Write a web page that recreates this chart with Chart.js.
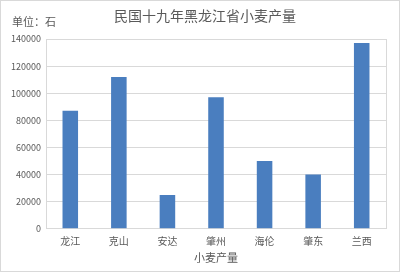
<!DOCTYPE html>
<html>
<head>
<meta charset="utf-8">
<script src="https://cdn.jsdelivr.net/npm/chart.js@4.4.0/dist/chart.umd.min.js"></script>
<style>
  html, body { margin: 0; padding: 0; background: #fff; }
  #wrap { width: 400px; height: 272px; box-sizing: border-box; border: 1px solid #d9d9d9; position: relative; }
  canvas { display: block; }
</style>
</head>
<body>
<div id="wrap"><canvas id="grafico" width="398" height="270"></canvas></div>
<script>
// datos del gráfico
const categorias = ['龙江', '克山', '安达', '肇州', '海伦', '肇东', '兰西'];
const produccion = [87000, 112000, 25000, 97000, 50000, 40000, 137000];
const titulo = '民国十九年黑龙江省小麦产量';
const unidad = '单位：石';
const tituloEjeX = '小麦产量';

const fuente = '"Microsoft YaHei", "Noto Sans CJK SC", sans-serif';
const gris = '#595959';

// dibuja título, unidad y el borde derecho del área
const extras = {
  id: 'extras',
  afterDraw(chart) {
    const { ctx, chartArea } = chart;
    ctx.save();
    ctx.strokeStyle = '#d9d9d9';
    ctx.lineWidth = 1;
    ctx.beginPath();
    ctx.moveTo(Math.round(chartArea.right) + 0.5, chartArea.top);
    ctx.lineTo(Math.round(chartArea.right) + 0.5, chartArea.bottom);
    ctx.stroke();
    ctx.fillStyle = gris;
    ctx.textBaseline = 'middle';
    ctx.font = '14px ' + fuente;
    ctx.textAlign = 'center';
    ctx.fillText(titulo, 204, 15);
    ctx.font = '11px ' + fuente;
    ctx.textAlign = 'left';
    ctx.fillText(unidad, 11, 21);
    ctx.restore();
  }
};

new Chart(document.getElementById('grafico').getContext('2d'), {
  type: 'bar',
  data: {
    labels: categorias,
    datasets: [{
      data: produccion,
      backgroundColor: '#4A7EBF',
      categoryPercentage: 1,
      barPercentage: 0.32
    }]
  },
  options: {
    responsive: false,
    animation: false,
    layout: { padding: { left: 0, right: 13, top: 38, bottom: 7 } },
    plugins: {
      legend: { display: false },
      tooltip: { enabled: false },
      title: { display: false }
    },
    scales: {
      x: {
        grid: { display: false, drawTicks: false },
        border: { color: '#d9d9d9' },
        ticks: { color: gris, font: { family: fuente, size: 10 }, padding: 6 },
        title: { display: true, text: tituloEjeX, color: gris, font: { family: fuente, size: 11 }, padding: { top: -2, bottom: 0 } }
      },
      y: {
        min: 0,
        max: 140000,
        afterFit(scale) { scale.width = 45; },
        grid: { color: '#d9d9d9', drawTicks: false },
        border: { color: '#d9d9d9' },
        ticks: {
          stepSize: 20000,
          color: gris,
          font: { family: fuente, size: 9 },
          padding: 5,
          callback: v => String(v)
        }
      }
    }
  },
  plugins: [extras]
});
</script>
</body>
</html>
